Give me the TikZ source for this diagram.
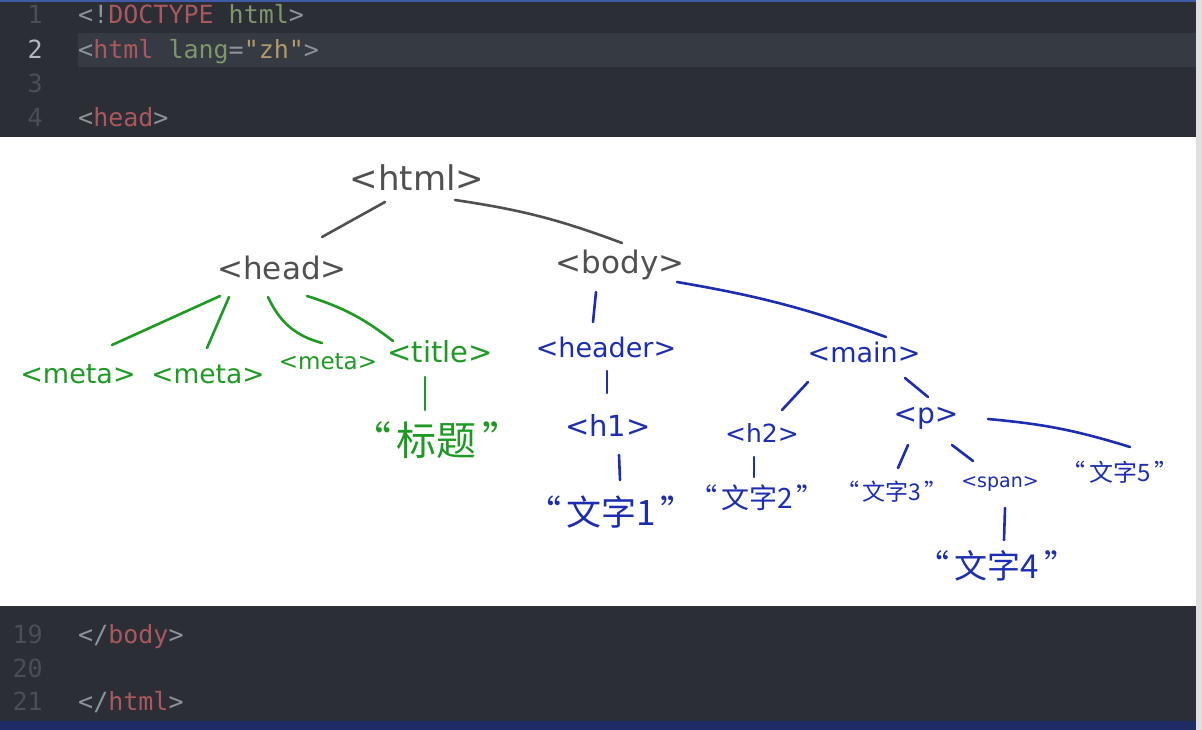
\documentclass[tikz,border=0pt]{standalone}
\usepackage{fontspec}
\setmainfont{DejaVu Sans}
\setmonofont{DejaVu Sans Mono}
\newfontfamily\cjk{Noto Sans CJK SC}
\usetikzlibrary{arrows.meta}
\definecolor{editorbg}{HTML}{2B2E35}
\definecolor{curline}{HTML}{363A42}
\definecolor{numdim}{HTML}{4A4E56}
\definecolor{numcur}{HTML}{B4B8BE}
\definecolor{tagred}{HTML}{A9585E}
\definecolor{attrgreen}{HTML}{7E966A}
\definecolor{punct}{HTML}{8E939A}
\definecolor{strtan}{HTML}{B39A6A}
\definecolor{topblue}{HTML}{3F5AA6}
\definecolor{barblue}{HTML}{1E2B64}
\definecolor{pengray}{HTML}{505050}
\definecolor{pengreen}{HTML}{1E9A24}
\definecolor{penblue}{HTML}{1C2DB0}
\newcommand\hw[1]{\fontsize{#1}{#1}\selectfont}
\newcommand\qs{\hspace{0.15em}}

\begin{document}
\begin{tikzpicture}[x=1pt,y=-1pt,
    code/.style={anchor=base west,inner sep=0,font=\ttfamily\hw{25}},
    lnum/.style={anchor=base east,inner sep=0,font=\ttfamily\hw{25},text=numdim},
    tag/.style={inner sep=0},
    wire/.style={line width=2.6pt,line cap=round}]
  % editor background
  \fill[editorbg] (0,0) rectangle (1202,730);
  \fill[curline] (78,33) rectangle (1196,67);
  \fill[topblue] (0,0) rectangle (1196,2);
  \fill[barblue] (0,721) rectangle (1196,730);
  \fill[gray!25] (1196,0) rectangle (1202,730);
  % code lines
  \node[lnum] (n1) at (43,24) {1};
  \node[lnum,text=numcur] (n2) at (43,59) {2};
  \node[lnum] (n3) at (43,93) {3};
  \node[lnum] (n4) at (43,127) {4};
  \node[lnum] (n19) at (43,643) {19};
  \node[lnum] (n20) at (43,677) {20};
  \node[lnum] (n21) at (43,710) {21};
  \node[code] (c1) at (78,24) {\textcolor{punct}{<!}\textcolor{tagred}{DOCTYPE}\ \textcolor{attrgreen}{html}\textcolor{punct}{>}};
  \node[code] (c2) at (78,59) {\textcolor{punct}{<}\textcolor{tagred}{html}\ \textcolor{attrgreen}{lang}\textcolor{punct}{=}\textcolor{strtan}{"zh"}\textcolor{punct}{>}};
  \node[code] (c4) at (78,127) {\textcolor{punct}{<}\textcolor{tagred}{head}\textcolor{punct}{>}};
  \node[code] (c19) at (78,643) {\textcolor{punct}{</}\textcolor{tagred}{body}\textcolor{punct}{>}};
  \node[code] (c21) at (78,710) {\textcolor{punct}{</}\textcolor{tagred}{html}\textcolor{punct}{>}};
  % sketch panel
  \fill[white] (0,137) rectangle (1196,606);
  \node[tag,text=pengray,font=\hw{34}] (html) at (417,178) {<html>};
  \node[tag,text=pengray,font=\hw{31}] (head) at (282,268) {<head>};
  \node[tag,text=pengray,font=\hw{31}] (body) at (620,265) {<body>};
  \node[tag,text=pengreen,font=\hw{27}] (meta1) at (78,374) {<meta>};
  \node[tag,text=pengreen,font=\hw{26.5}] (meta2) at (208,374) {<meta>};
  \node[tag,text=pengreen,font=\hw{23}] (meta3) at (328,362) {<meta>};
  \node[tag,text=pengreen,font=\hw{29}] (title) at (440,352) {<title>};
  \node[tag,text=pengreen,font=\cjk\hw{40}] (biaoti) at (437,440) {“\qs 标题\qs”};
  \node[tag,text=penblue,font=\hw{27}] (header) at (606,347) {<header>};
  \node[tag,text=penblue,font=\hw{27}] (main) at (864,352) {<main>};
  \node[tag,text=penblue,font=\hw{29}] (h1) at (608,425) {<h1>};
  \node[tag,text=penblue,font=\hw{25}] (h2) at (762,433) {<h2>};
  \node[tag,text=penblue,font=\hw{28}] (p) at (926,418) {<p>};
  \node[tag,text=penblue,font=\hw{19}] (span) at (1000,484) {<span>};
  \node[tag,text=penblue,font=\cjk\hw{35}] (word1) at (611,512) {“\qs 文字1\qs”};
  \node[tag,text=penblue,font=\cjk\hw{28}] (word2) at (757,498) {“\qs 文字2\qs”};
  \node[tag,text=penblue,font=\cjk\hw{23}] (word3) at (892,492) {“\qs 文字3\qs”};
  \node[tag,text=penblue,font=\cjk\hw{33}] (word4) at (997,566) {“\qs 文字4\qs”};
  \node[tag,text=penblue,font=\cjk\hw{24}] (word5) at (1120,472) {“\qs 文字5\qs”};
  % html level
  \draw[wire,pengray] ([shift={(-32,24)}]html.center) -- ([shift={(40,-31)}]head.center);
  \draw[wire,pengray] ([shift={(38,22)}]html.center) to[bend left=6] ([shift={(2,-22)}]body.center);
  % head children
  \draw[wire,pengreen] ([shift={(-62,28)}]head.center) -- ([shift={(34,-29)}]meta1.center);
  \draw[wire,pengreen] ([shift={(-53,29)}]head.center) -- ([shift={(-1,-26)}]meta2.center);
  \draw[wire,pengreen] ([shift={(-14,29)}]head.center) to[out=-65,in=165] ([shift={(-6,-19)}]meta3.center);
  \draw[wire,pengreen] ([shift={(25,28)}]head.center) to[bend left=10] ([shift={(-47,-11)}]title.center);
  \draw[wire,pengreen] ([shift={(-15,25)}]title.center) -- ([shift={(-12,-30)}]biaoti.center);
  % body children
  \draw[wire,penblue] ([shift={(-24,27)}]body.center) -- ([shift={(-13,-25)}]header.center);
  \draw[wire,penblue] ([shift={(57,17)}]body.center) to[bend left=5] ([shift={(22,-15)}]main.center);
  \draw[wire,penblue] ([shift={(1,24)}]header.center) -- ([shift={(-1,-32)}]h1.center);
  \draw[wire,penblue] ([shift={(11,30)}]h1.center) -- ([shift={(9,-32)}]word1.center);
  \draw[wire,penblue] ([shift={(-56,30)}]main.center) -- ([shift={(20,-23)}]h2.center);
  \draw[wire,penblue] ([shift={(41,26)}]main.center) -- ([shift={(2,-21)}]p.center);
  \draw[wire,penblue] ([shift={(-8,24)}]h2.center) -- ([shift={(-3,-21)}]word2.center);
  \draw[wire,penblue] ([shift={(-18,27)}]p.center) -- ([shift={(6,-24)}]word3.center);
  \draw[wire,penblue] ([shift={(26,27)}]p.center) -- ([shift={(-27,-23)}]span.center);
  \draw[wire,penblue] ([shift={(62,1)}]p.center) to[bend left=6] ([shift={(10,-25)}]word5.center);
  \draw[wire,penblue] ([shift={(5,24)}]span.center) -- ([shift={(7,-26)}]word4.center);
\end{tikzpicture}
\end{document}
